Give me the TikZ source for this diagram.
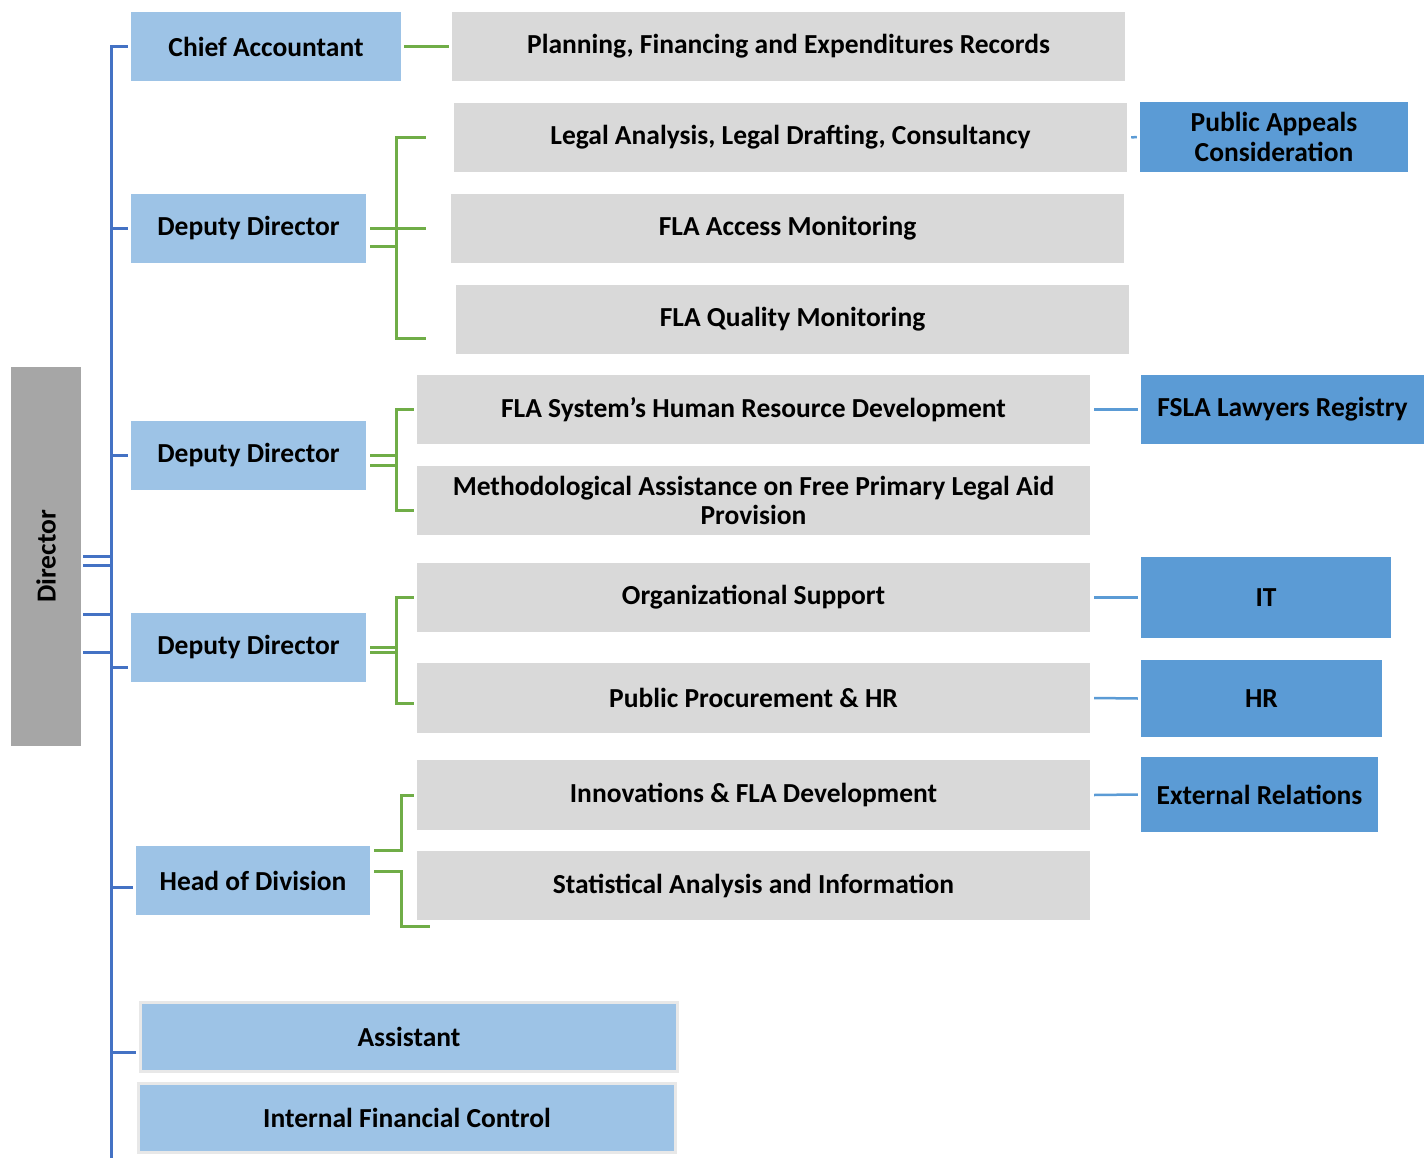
\documentclass[tikz,border=0pt]{standalone}
\usepackage{fontspec}
\setmainfont{Carlito}
\usepackage{xcolor}
\definecolor{trunk-blue}{HTML}{4472C4}
\definecolor{branch-green}{HTML}{70AD47}
\definecolor{light-blue}{HTML}{9DC3E6}
\definecolor{mid-blue}{HTML}{5B9BD5}
\definecolor{unit-gray}{HTML}{D9D9D9}
\definecolor{head-gray}{HTML}{A6A6A6}
\newcommand{\boxfont}{\fontsize{27.5}{29.5}\selectfont\bfseries}
\tikzset{
    head-box/.style = {fill=head-gray, minimum width=70, minimum height=379, inner sep=0pt, font=\boxfont},
    lead-box/.style = {fill=light-blue, minimum height=69, inner sep=2pt, font=\boxfont},
    unit-box/.style = {fill=unit-gray, minimum width=673, minimum height=69, inner sep=2pt, align=center, font=\boxfont},
    sub-box/.style = {fill=mid-blue, inner sep=2pt, align=center, font=\boxfont},
    trunk-line/.style = {draw=trunk-blue, line width=3pt},
    branch-line/.style = {draw=branch-green, line width=3pt},
    link-line/.style = {draw=mid-blue, line width=2.5pt},
}

\begin{document}
\begin{tikzpicture}[x=1pt, y=-1pt]
\useasboundingbox (0,0) rectangle (1424,1158);

\node[head-box] (dir) at (46,556.5) {\rotatebox{90}{Director}};

% left column
\node[lead-box, minimum width=270] (chief) at (266,46.5) {Chief Accountant};
\node[lead-box, minimum width=235] (dep1) at (248.5,228.5) {Deputy Director};
\node[lead-box, minimum width=235] (dep2) at (248.5,455.5) {Deputy Director};
\node[lead-box, minimum width=235] (dep3) at (248.5,647.5) {Deputy Director};
\node[lead-box, minimum width=234] (head) at (253,880.5) {Head of Division};
\node[lead-box, draw=gray!18, line width=3pt, minimum width=537, minimum height=69] (asst) at (409,1037) {Assistant};
\node[lead-box, draw=gray!18, line width=3pt, minimum width=537, minimum height=69] (ifc) at (407,1118) {Internal Financial Control};

% units
\node[unit-box] (plan) at (788.5,46.5) {Planning, Financing and Expenditures Records};
\node[unit-box] (legal) at (790.5,137.5) {Legal Analysis, Legal Drafting, Consultancy};
\node[unit-box] (access) at (787.5,228.5) {FLA Access Monitoring};
\node[unit-box] (quality) at (792.5,319.5) {FLA Quality Monitoring};
\node[unit-box] (hrdev) at (753.5,409.5) {FLA System’s Human Resource Development};
\node[unit-box] (method) at (753.5,500.5) {Methodological Assistance on Free Primary Legal Aid\\Provision};
\node[unit-box] (org) at (753.5,597.5) {Organizational Support};
\node[unit-box, minimum height=70] (proc) at (753.5,698) {Public Procurement \& HR};
\node[unit-box, minimum height=70] (innov) at (753.5,795) {Innovations \& FLA Development};
\node[unit-box] (stat) at (753.5,885.5) {Statistical Analysis and Information};

% sub units
\node[sub-box, minimum width=268, minimum height=70] (appeals) at (1274,137) {Public Appeals\\Consideration};
\node[sub-box, minimum width=283, minimum height=69] (registry) at (1282.5,409.5) {FSLA Lawyers Registry};
\node[sub-box, minimum width=250, minimum height=81] (it) at (1266,597.5) {IT};
\node[sub-box, minimum width=241, minimum height=77] (hr) at (1261.5,698.5) {HR};
\node[sub-box, minimum width=237, minimum height=75] (extrel) at (1259.5,794.5) {External Relations};

% blue trunk
\coordinate (trunk) at (111,1158);
\draw[trunk-line] ([xshift=-3]chief.west) -| (trunk);
\foreach \n in {dep1,dep2}
    \draw[trunk-line] (trunk |- \n.west) -- ([xshift=-3]\n.west);
\draw[trunk-line] (trunk |- 0,667) -- ([xshift=-3,yshift=-19.5]dep3.west);
\draw[trunk-line] (trunk |- 0,887) -- ([xshift=-3,yshift=-6.5]head.west);
\draw[trunk-line] (trunk |- 0,1052) -- ([xshift=-3,yshift=-15]asst.west);
\foreach \y in {556.5,565,614,652}
    \draw[trunk-line, shorten <=2pt] (dir.east |- 0,\y) -- (trunk |- 0,\y);

% green brackets
\draw[branch-line] ([xshift=3]chief.east) -- ([xshift=-3]plan.west);
\draw[branch-line] ([xshift=4]dep1.east) -- ++(27,0);
\draw[branch-line] ([xshift=4,yshift=-18.5]dep1.east) -- ++(27,0);
\draw[branch-line] ([xshift=-28]legal.west) -- ++(-29,0) |- ([xshift=-30,yshift=-18.5]quality.west);
\draw[branch-line] ([xshift=-25]access.west) -- ++(-29,0);

\draw[branch-line] ([xshift=4]dep2.east) -- ++(27,0);
\draw[branch-line] ([xshift=4,yshift=-9.5]dep2.east) -- ++(27,0);
\draw[branch-line] ([xshift=-3]hrdev.west) -- ++(-17,0) |- ([xshift=-3,yshift=-9.5]method.west);

\draw[branch-line] ([xshift=4]dep3.east) -- ++(27,0);
\draw[branch-line] ([xshift=4,yshift=-4.5]dep3.east) -- ++(27,0);
\draw[branch-line] ([xshift=-3]org.west) -- ++(-17,0) |- ([xshift=-3,yshift=-5]proc.west);

\draw[branch-line] ([xshift=4,yshift=30.5]head.east) -- ++(27,0) |- ([xshift=-3]innov.west);
\draw[branch-line] ([xshift=4,yshift=9.5]head.east) -- ++(27,0) |- ([xshift=13,yshift=-40.5]stat.west);

% links to sub units
\draw[link-line] ([xshift=4]legal.east) -- ([xshift=-3]appeals.west);
\foreach \a/\b in {hrdev/registry, org/it, proc/hr, innov/extrel}
    \draw[link-line] ([xshift=4]\a.east) -- ([xshift=-3]\b.west);
\end{tikzpicture}
\end{document}
